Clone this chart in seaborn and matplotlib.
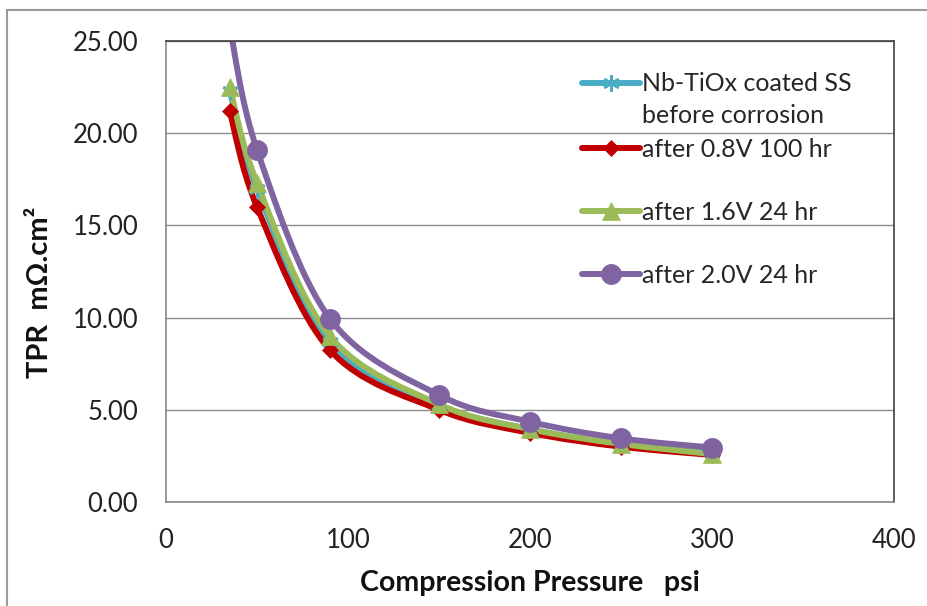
import numpy as np
import pandas as pd
import matplotlib
matplotlib.use("Agg")
import matplotlib.pyplot as plt
import seaborn as sns
from matplotlib.path import Path
from matplotlib.patches import PathPatch, Rectangle
from matplotlib.lines import Line2D

# pressure (psi) at which TPR was measured
pressure = [35, 50, 90, 150, 200, 250, 300]

# TPR values (mOhm.cm2)
tpr_before = [22.3, 17.0, 8.7, 5.25, 3.95, 3.15, 2.65]
tpr_08v = [21.2, 16.0, 8.25, 5.0, 3.75, 3.0, 2.55]
tpr_16v = [22.5, 17.3, 9.0, 5.3, 3.95, 3.15, 2.6]
tpr_20v = [25.8, 19.1, 9.95, 5.8, 4.35, 3.45, 2.95]

series_names = ["Nb-TiOx coated SS\nbefore corrosion", "after 0.8V 100 hr",
                "after 1.6V 24 hr", "after 2.0V 24 hr"]
series_values = [tpr_before, tpr_08v, tpr_16v, tpr_20v]
colors = ["#4BACC6", "#C00000", "#9BBB59", "#8064A2"]
markers = [(6, 2, 0), "D", "^", "o"]
marker_sizes = [12, 8.5, 13, 14.5]

x_ticks = [0, 100, 200, 300, 400]
y_ticks = [0, 5, 10, 15, 20, 25]


def smooth_path(xs, ys):
    # Excel-like smoothed line: Catmull-Rom segments as cubic Bezier curves
    pts = np.column_stack([xs, ys]).astype(float)
    n = len(pts)
    verts = [pts[0]]
    codes = [Path.MOVETO]
    for i in range(n - 1):
        p0 = pts[i - 1] if i > 0 else pts[i]
        p1 = pts[i]
        p2 = pts[i + 1]
        p3 = pts[i + 2] if i + 2 < n else pts[i + 1]
        c1 = p1 + (p2 - p0) / 6.0
        c2 = p2 - (p3 - p1) / 6.0
        verts += [c1, c2, p2]
        codes += [Path.CURVE4] * 3
    return Path(verts, codes)


sns.set_theme(style="white")
plt.rcParams['font.family'] = ['Lato', 'DejaVu Sans']

fig = plt.figure(figsize=(9.27, 6.06), dpi=100)
ax = fig.add_axes([166 / 927, 104 / 606, 728 / 927, 461 / 606])

df = pd.DataFrame({"pressure": pressure})
for name, vals, col, mk, ms in zip(series_names, series_values, colors, markers, marker_sizes):
    df[name] = vals
    patch = PathPatch(smooth_path(pressure, vals), facecolor="none", edgecolor=col,
                      lw=4.3, capstyle="round", joinstyle="round")
    ax.add_patch(patch)
    sns.lineplot(data=df, x="pressure", y=name, ax=ax, color=col, linestyle="",
                 marker=mk, markersize=ms, markeredgecolor=col,
                 markeredgewidth=2 if mk == markers[0] else 0.5)

ax.set_xlim(0, 400)
ax.set_ylim(0, 25)
ax.set_xticks(x_ticks)
ax.set_yticks(y_ticks)
ax.set_yticklabels([f"{v:.2f}" for v in y_ticks])
ax.tick_params(axis="both", labelsize=18.5, colors="#222222", direction="out",
               length=8, width=1)
ax.tick_params(axis="x", pad=11)
ax.tick_params(axis="y", pad=12)
ax.tick_params(axis="both", color="#868686")
ax.grid(axis="y", color="#8c8c8c", lw=1)
ax.grid(axis="x", visible=False)
ax.set_axisbelow(True)
for side in ["left", "bottom"]:
    ax.spines[side].set_color("#868686")
    ax.spines[side].set_linewidth(1.2)
for side in ["top", "right"]:
    ax.spines[side].set_color("#404040")
    ax.spines[side].set_linewidth(1.2)

ax.set_xlabel("Compression Pressure   psi", fontsize=20.5, fontweight="bold", color="#111111")
ax.set_ylabel("TPR  mΩ.cm²", fontsize=21, fontweight="bold", color="#111111")
ax.xaxis.set_label_coords(0.5, -0.147)
ax.yaxis.set_label_coords(-0.155, 0.455)

# legend, split in two so the first handle sits on the first line of its label
h = [Line2D([], [], color=c, lw=4.3, marker=m, markersize=s, markeredgecolor=c,
            markeredgewidth=2 if m == markers[0] else 0.5)
     for c, m, s in zip(colors, markers, marker_sizes)]
first_lines = series_names[0].split("\n")
leg1 = ax.legend([h[0], Line2D([], [], color="none")], first_lines,
                 loc="upper left", bbox_to_anchor=(0.572, 0.932), frameon=False,
                 fontsize=18, handlelength=2.3, handletextpad=0.1,
                 labelspacing=0.36, borderpad=0, borderaxespad=0)
ax.add_artist(leg1)
ax.legend(h[1:], series_names[1:], loc="upper left", bbox_to_anchor=(0.572, 0.79),
          frameon=False, fontsize=18, handlelength=2.3, handletextpad=0.1,
          labelspacing=1.6, borderpad=0, borderaxespad=0)

# thin outer chart frame
fig.add_artist(Rectangle((7 / 927, -0.05), 1.2, (606 - 10) / 606 + 0.05,
                         transform=fig.transFigure, fill=False,
                         edgecolor="#9a9a9a", lw=1.5))

fig.savefig("out.png", dpi=100)
